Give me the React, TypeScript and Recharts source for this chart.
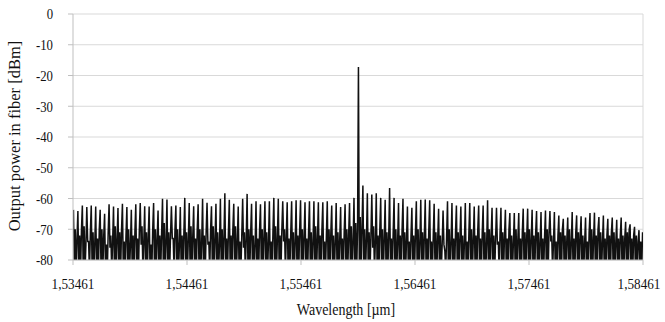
import { LineChart, Line, XAxis, YAxis, CartesianGrid, ReferenceLine } from 'recharts'

const FONT = '"Liberation Serif", "Times New Roman", serif'

// peak level of each longitudinal mode [dBm], left to right
const peakLevels = [
  -63.7, -64.1, -62.3, -62.8, -62.3, -62.6, -63.7, -65.0, -61.9, -62.6, -63.1, -61.7, -62.8,
  -63.7, -61.9, -61.5, -62.5, -62.6, -61.5, -63.9, -60.1, -60.3, -62.5, -62.3, -62.8,
  -59.8, -61.5, -62.5, -61.9, -60.1, -61.4, -62.5, -61.7, -60.1, -58.3, -60.4, -61.7, -62.6,
  -60.1, -58.5, -61.7, -60.9, -61.9, -60.9, -60.9, -59.8, -60.1, -60.9, -61.2, -60.9, -60.6,
  -60.6, -61.2, -60.9, -60.9, -61.2, -61.2, -60.9, -62.3, -61.5, -62.8, -61.9, -61.5, -59.8,
  -17.2, -55.8, -58.3, -58.7, -58.3, -59.8, -60.4, -56.6, -59.8, -61.5, -60.1, -62.6,
  -63.0, -60.9, -60.4, -60.3, -60.6, -61.7, -63.3, -63.9, -60.9, -61.5, -62.3, -62.6, -61.5,
  -61.5, -62.6, -62.3, -62.3, -60.6, -63.0, -63.0, -63.0, -63.7, -64.7, -64.7, -64.7, -63.3,
  -63.3, -63.7, -64.1, -64.4, -63.9, -64.1, -64.4, -65.5, -66.6, -66.2, -64.4, -65.5, -65.8,
  -66.2, -64.7, -64.6, -66.0, -65.5, -66.6, -66.2, -66.9, -66.2, -67.6, -68.4, -69.2, -70.3,
]

// lowest point right after each peak (below -80 is off scale)
const troughLevels = [
  -84, -84, -84, -74, -84, -84, -84, -84, -76, -84, -84, -84, -84,
  -84, -84, -75, -84, -84, -84, -84, -84, -84, -73, -84, -84,
  -84, -84, -84, -84, -84, -75, -84, -84, -84, -84, -84, -84, -84,
  -76, -84, -84, -84, -84, -84, -84, -84, -84, -74, -84, -84, -84,
  -84, -84, -84, -84, -84, -84, -84, -84, -84, -84, -84, -84, -84,
  -84, -84, -84, -76, -84, -84, -84, -84, -84, -84, -84, -84,
  -84, -84, -84, -84, -84, -84, -84, -75, -84, -84, -84, -84, -84,
  -84, -84, -84, -84, -84, -84, -75, -84, -84, -84, -84, -84, -84,
  -84, -84, -84, -84, -84, -74, -84, -84, -84, -84, -84, -84, -84,
  -84, -84, -84, -84, -84, -84, -84, -84, -84, -84, -84, -84, -84,
]

// noise between modes, first and second half of each spacing
const noiseLevels = [
  -70, -72, -69, -74, -71, -73, -70, -75, -72, -69, -71, -74, -70,
  -72, -73, -69, -71, -75, -70, -72, -68, -71, -73, -70, -72,
  -71, -69, -73, -70, -72, -74, -69, -71, -70, -73, -72, -69, -74,
  -71, -70, -72, -73, -70, -71, -74, -69, -72, -70, -73, -71, -72,
  -70, -73, -71, -69, -72, -74, -70, -72, -71, -73, -70, -69, -68,
  -66, -70, -71, -69, -72, -70, -71, -73, -70, -72, -71, -74,
  -72, -70, -71, -73, -74, -71, -72, -77, -70, -73, -71, -72, -74,
  -70, -72, -73, -71, -70, -72, -74, -71, -73, -72, -70, -73, -71,
  -70, -72, -71, -73, -70, -72, -74, -71, -72, -70, -73, -71, -72,
  -74, -70, -72, -71, -73, -72, -71, -73, -72, -71, -73, -72, -74,
]

const noiseLevelsB = [
  -73, -70, -75, -71, -74, -70, -72, -71, -74, -73, -70, -72, -75,
  -71, -70, -74, -72, -70, -73, -71, -74, -72, -70, -75, -71,
  -73, -72, -70, -74, -71, -70, -73, -75, -72, -71, -70, -74, -72,
  -73, -71, -75, -70, -72, -74, -71, -73, -70, -72, -71, -74, -70,
  -72, -71, -74, -73, -70, -72, -71, -74, -73, -71, -72, -74, -70,
  -69, -73, -72, -74, -70, -73, -72, -71, -74, -70, -73, -72,
  -71, -74, -72, -70, -72, -73, -75, -72, -74, -71, -72, -74, -71,
  -73, -70, -71, -74, -72, -73, -71, -72, -70, -74, -73, -71, -72,
  -73, -71, -74, -72, -71, -74, -72, -70, -73, -74, -71, -72, -74,
  -71, -73, -70, -74, -72, -71, -74, -72, -73, -70, -72, -74, -71,
]

// trace drops off scale between the two noise halves
const FLOOR = -84

const xTicks = [1.53461, 1.54461, 1.55461, 1.56461, 1.57461, 1.58461]
const xTickLabels = ['1,53461', '1,54461', '1,55461', '1,56461', '1,57461', '1,58461']
const yTicks = [0, -10, -20, -30, -40, -50, -60, -70, -80]

const X_MIN = 1.53461
const X_MAX = 1.58461
const samples = peakLevels.flatMap((p, i) => [p, troughLevels[i], noiseLevels[i], FLOOR, noiseLevelsB[i]])
const step = (X_MAX - X_MIN) / samples.length
const data = samples.map((power, k) => ({ wl: X_MIN + (k + 0.5) * step, power }))

const XTick = ({ x, y, payload }: any) => {
  const idx = xTicks.indexOf(payload.value)
  return (
    <g transform={`translate(${x},${y})`}>
      <text transform="scale(0.85,1)" textAnchor="middle" dy="0.71em" fontFamily={FONT} fontSize={15.5} fill="#111">
        {xTickLabels[idx] ?? payload.value}
      </text>
    </g>
  )
}

const YTick = ({ x, y, payload }: any) => (
  <g transform={`translate(${x},${y})`}>
    <text transform="scale(0.85,1)" textAnchor="end" dy="0.355em" fontFamily={FONT} fontSize={15} fill="#111">
      {payload.value}
    </text>
  </g>
)

export default function App() {
  return (
    <div style={{ position: 'absolute', left: 0, top: 0, width: 665, height: 322, background: '#fff' }}>
      <LineChart width={665} height={322} data={data} margin={{ top: 14, right: 22, bottom: 0, left: 0 }}>
        <CartesianGrid vertical={false} stroke="#d9d9d9" />
        <XAxis
          dataKey="wl"
          type="number"
          domain={[X_MIN, X_MAX]}
          ticks={xTicks}
          height={62}
          tickSize={5}
          tickMargin={13}
          stroke="#bfbfbf"
          tick={<XTick />}
          allowDataOverflow
        />
        <YAxis
          type="number"
          domain={[-80, 0]}
          ticks={yTicks}
          width={73}
          tickSize={5}
          tickMargin={15}
          stroke="#bfbfbf"
          tick={<YTick />}
          allowDataOverflow
        />
        <ReferenceLine x={X_MAX} stroke="#d9d9d9" />
        <Line
          dataKey="power"
          type="linear"
          stroke="#111"
          strokeWidth={1.5}
          dot={false}
          isAnimationActive={false}
        />
      </LineChart>
      <svg width={665} height={322} style={{ position: 'absolute', left: 0, top: 0, pointerEvents: 'none' }}>
        <text
          transform="translate(20,136) rotate(-90)"
          textAnchor="middle"
          fontFamily={FONT}
          fontSize={16.5}
          fill="#111"
        >
          Output power in fiber [dBm]
        </text>
        <g transform="translate(346,315)">
          <text transform="scale(0.85,1)" textAnchor="middle" fontFamily={FONT} fontSize={16.5} fill="#111">
            Wavelength [µm]
          </text>
        </g>
      </svg>
    </div>
  )
}
